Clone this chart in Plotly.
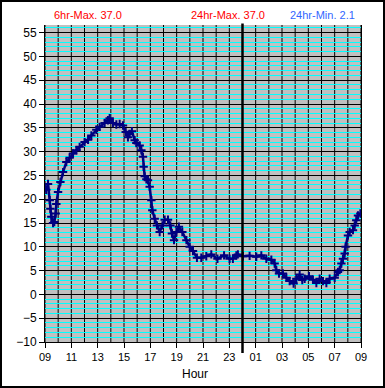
import plotly.graph_objects as go

# Hours since 09:00 and temperature readings
hours = [0.0, 0.1, 0.23, 0.36, 0.41, 0.48, 0.61, 0.71, 0.81, 0.86, 0.99, 1.17, 1.37, 1.62,
         1.87, 2.13, 2.38, 2.63, 3.01, 3.27, 3.52, 3.9, 4.15, 4.53, 4.78, 4.91, 5.16, 5.42,
         5.67, 5.92, 6.13, 6.3, 6.43, 6.6, 6.81, 6.94, 7.19, 7.32, 7.44, 7.49, 7.57, 7.7,
         7.82, 7.95, 8.08, 8.15, 8.33, 8.5, 8.71, 8.92, 9.09, 9.34, 9.52, 9.64, 9.8, 9.98,
         10.17, 10.43, 10.74, 10.99, 11.24, 11.54, 11.87, 12.25, 12.63, 13.1, 13.6, 14.02,
         14.27, 14.53, 14.65, 15.03, 15.54, 16.05, 16.43, 16.81, 17.19, 17.44, 17.57, 17.77,
         18.07, 18.33, 18.58, 18.88, 19.09, 19.34, 19.54, 19.72, 20.05, 20.35, 20.61, 20.86,
         21.11, 21.37, 21.62, 22.0, 22.25, 22.38, 22.51, 22.63, 22.76, 22.83, 23.01, 23.14,
         23.39, 23.52, 23.64, 23.77, 23.95]
temps = [22.4, 22.0, 23.2, 19.8, 18.0, 16.3, 15.0, 15.2, 17.0, 19.0, 21.5, 23.6, 25.7, 27.8,
         28.7, 29.6, 30.3, 31.0, 32.0, 32.5, 33.4, 34.6, 35.2, 36.0, 36.6, 37.0, 36.0, 35.7,
         35.8, 35.5, 34.1, 33.0, 33.7, 34.3, 32.4, 31.8, 31.3, 30.3, 28.9, 26.8, 24.8, 24.2,
         24.0, 22.6, 19.8, 17.7, 15.9, 14.5, 13.1, 14.5, 15.7, 15.7, 14.5, 12.8, 11.4, 13.1,
         14.2, 13.1, 11.4, 10.0, 9.1, 7.7, 7.7, 8.0, 8.4, 7.5, 8.2, 7.5,
         7.5, 8.2, 8.4, 8.0, 8.1, 7.9, 8.2, 7.5, 7.3, 6.5, 5.1, 4.4,
         4.4, 3.5, 2.8, 2.3, 3.3, 4.2, 3.0, 3.3, 3.8, 3.1, 2.4, 3.3,
         2.8, 2.4, 3.3, 3.5, 4.7, 5.1, 6.5, 7.5, 8.6, 10.0, 12.4, 13.1,
         13.5, 14.5, 15.6, 16.6, 17.0]

tick_vals = [0, 2, 4, 6, 8, 10, 12, 14, 16, 18, 20, 22, 24]
tick_text = ["09", "11", "13", "15", "17", "19", "21", "23", "01", "03", "05", "07", "09"]
titles = ["6hr-Max. 37.0", "24hr-Max. 37.0", "24hr-Min. 2.1"]
title_colors = ["#FF0000", "#FF0000", "#3366FF"]
title_x = [0.135, 0.578, 0.877]
midnight = 15
y_range = [-10, 56.6]

NAVY = "#000080"

fig = go.Figure()
fig.add_trace(go.Scatter(
    x=hours, y=temps, mode="lines+markers",
    line=dict(color=NAVY, width=2.5),
    marker=dict(symbol="cross-thin", size=6, line=dict(color=NAVY, width=2), color=NAVY),
    showlegend=False, hoverinfo="skip",
))

W, H = 385, 388
L, R, T, B = 45, 24, 25, 46
pw, ph = W - L - R, H - T - B

def px_x(p):
    return (p - L) / pw

def px_y(p):
    return (H - B - p) / ph

annotations = []
for t, c, xx in zip(titles, title_colors, title_x):
    annotations.append(dict(text=t, x=xx, y=px_y(15.5), xref="paper", yref="paper",
                            showarrow=False, xanchor="center", yanchor="middle",
                            font=dict(color=c, size=11)))
annotations.append(dict(text="Hour", x=px_x(194.5), y=px_y(373.5), xref="paper", yref="paper",
                        showarrow=False, xanchor="center", yanchor="middle",
                        font=dict(color="black", size=12)))

# hourly black vertical grid lines drawn above the cyan minor grid
shapes = [dict(type="line", xref="x", yref="y", x0=h, x1=h, y0=y_range[0], y1=y_range[1],
               line=dict(color="black", width=1), layer="below") for h in range(0, 25)]
shapes += [
    dict(type="line", xref="paper", yref="paper", x0=midnight / 24, x1=midnight / 24,
         y0=px_y(353), y1=px_y(23.5), line=dict(color="black", width=2.5), layer="above"),
    dict(type="rect", xref="paper", yref="paper", x0=px_x(1), x1=px_x(384),
         y0=px_y(387), y1=px_y(1), line=dict(color="black", width=2), layer="above"),
]

fig.update_layout(
    width=W, height=H,
    margin=dict(l=L, r=R, t=T, b=B, pad=0),
    paper_bgcolor="white", plot_bgcolor="#C0C0C0",
    font=dict(family="Liberation Sans, Arial, sans-serif", color="black"),
    annotations=annotations, shapes=shapes,
    xaxis=dict(range=[0, 24], tickvals=tick_vals, ticktext=tick_text,
               showgrid=False,
               ticks="outside", ticklen=5, tickcolor="black", tickwidth=1,
               showline=True, linecolor="black", linewidth=1, mirror=False,
               zeroline=False, tickfont=dict(size=11), fixedrange=True),
    yaxis=dict(range=y_range, tick0=-10, dtick=5,
               showgrid=True, gridcolor="black", gridwidth=1,
               minor=dict(dtick=1, tick0=0, showgrid=True, gridcolor="#00FFFF", gridwidth=1, ticks=""),
               ticks="outside", ticklen=5, tickcolor="black", tickwidth=1,
               showline=True, linecolor="black", linewidth=1, mirror=True,
               zeroline=False, tickfont=dict(size=12), fixedrange=True),
)

fig.write_html("out.html", config={"displayModeBar": False, "staticPlot": True},
               post_script="document.body.style.margin='0';")
